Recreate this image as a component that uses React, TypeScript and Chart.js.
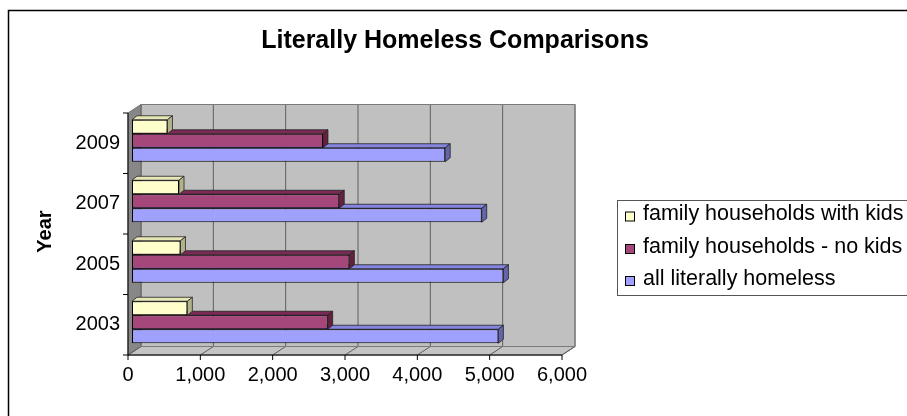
import React, { useEffect, useRef } from 'react';
import { Chart, registerables } from 'chart.js';

Chart.register(...registerables);

const TITLE = 'Literally Homeless Comparisons';
const Y_TITLE = 'Year';
const years = ['2009', '2007', '2005', '2003'];
const seriesLabels = ['family households with kids', 'family households - no kids', 'all literally homeless'];
const withKids = [490, 650, 670, 765];
const noKids = [2640, 2865, 3005, 2705];
const allHomeless = [4330, 4835, 5135, 5065];
const xTickValues = [0, 1000, 2000, 3000, 4000, 5000, 6000];

const FRONT = ['#FFFFCC', '#A5477A', '#A0A0FF'];
const TOP = ['#E6E6B6', '#7A2A55', '#8585E0'];
const SIDE = ['#B3B38A', '#66203F', '#6464AA'];

const FONT = '"Liberation Sans", Arial, sans-serif';
const BACK = { dx: 9, dy: -6 };
const FRONTP = { dx: -4, dy: 2.5 };
const BARD = { dx: 5, dy: -4 };

function poly(ctx: CanvasRenderingContext2D, pts: number[][], fill?: string, stroke?: string, lw = 1) {
  ctx.beginPath();
  ctx.moveTo(pts[0][0], pts[0][1]);
  for (let i = 1; i < pts.length; i++) ctx.lineTo(pts[i][0], pts[i][1]);
  ctx.closePath();
  if (fill) { ctx.fillStyle = fill; ctx.fill(); }
  if (stroke) { ctx.strokeStyle = stroke; ctx.lineWidth = lw; ctx.stroke(); }
}

function line(ctx: CanvasRenderingContext2D, x1: number, y1: number, x2: number, y2: number, color: string, lw = 1) {
  ctx.beginPath();
  ctx.moveTo(x1, y1);
  ctx.lineTo(x2, y2);
  ctx.strokeStyle = color;
  ctx.lineWidth = lw;
  ctx.stroke();
}

const frame3d = {
  id: 'frame3d',
  beforeDatasetsDraw(chart: any) {
    const { ctx, chartArea: a, scales } = chart;
    const xs = scales.x;
    const ys = scales.y;
    const L = a.left, R = a.right, T = a.top, B = a.bottom;
    const bx = BACK.dx, by = BACK.dy, fx = FRONTP.dx, fy = FRONTP.dy;
    ctx.save();
    ctx.fillStyle = '#C0C0C0';
    ctx.fillRect(L + bx, T + by, R - L, B - T);
    poly(ctx, [[L + fx, T + fy], [L + bx, T + by], [L + bx, B + by], [L + fx, B + fy]], '#878787', '#6E6E6E');
    poly(ctx, [[L + fx, B + fy], [R + fx, B + fy], [R + bx, B + by], [L + bx, B + by]], '#C4C4C4', '#6E6E6E');
    for (const v of xTickValues) {
      const x = xs.getPixelForValue(v);
      line(ctx, x + bx, T + by, x + bx, B + by, '#5E5E5E');
      line(ctx, x + fx, B + fy, x + bx, B + by, '#5E5E5E');
    }
    ctx.strokeStyle = '#7A7A7A';
    ctx.lineWidth = 1;
    ctx.strokeRect(L + bx, T + by, R - L, B - T);
    line(ctx, L + fx, T + fy, L + fx, B + fy + 0.5, '#000');
    for (let i = 0; i <= years.length; i++) {
      const y = ys.getPixelForValue(i - 0.5) + fy;
      line(ctx, L + fx - 5, y, L + fx, y, '#000');
    }
    line(ctx, L + fx, B + fy, R + fx, B + fy, '#000');
    for (const v of xTickValues) {
      const x = xs.getPixelForValue(v) + fx;
      line(ctx, x, B + fy, x, B + fy + 5, '#000');
    }
    ctx.restore();
  },
  beforeDatasetDraw(chart: any, args: any) {
    const { ctx } = chart;
    const i = args.index;
    const meta = args.meta;
    ctx.save();
    for (const el of meta.data) {
      const p = el.getProps(['x', 'y', 'base', 'height'], true);
      const top = p.y - p.height / 2;
      const bottom = p.y + p.height / 2;
      const left = Math.min(p.base, p.x);
      const right = Math.max(p.base, p.x);
      poly(ctx, [[left, top], [left + BARD.dx, top + BARD.dy], [right + BARD.dx, top + BARD.dy], [right, top]], TOP[i], '#222', 0.8);
      poly(ctx, [[right, top], [right + BARD.dx, top + BARD.dy], [right + BARD.dx, bottom + BARD.dy], [right, bottom]], SIDE[i], '#222', 0.8);
    }
    ctx.restore();
  },
  afterDraw(chart: any) {
    const { ctx } = chart;
    ctx.save();
    ctx.strokeStyle = '#000';
    ctx.lineWidth = 1.5;
    ctx.strokeRect(8.5, 10.5, 1200, 1200);
    ctx.fillStyle = '#000';
    ctx.font = `bold 25px ${FONT}`;
    ctx.textAlign = 'center';
    ctx.textBaseline = 'middle';
    ctx.fillText(TITLE, 455, 41);
    ctx.strokeStyle = '#555';
    ctx.lineWidth = 1;
    ctx.strokeRect(617.5, 200.5, 400, 95);
    ctx.font = `21.5px ${FONT}`;
    ctx.textAlign = 'left';
    const rows = [216.5, 249, 281];
    chart.data.datasets.forEach((ds: any, k: number) => {
      const cy = rows[k];
      ctx.fillStyle = ds.backgroundColor;
      ctx.fillRect(625.5, cy - 4.5, 9, 9);
      ctx.strokeStyle = '#000';
      ctx.strokeRect(625.5, cy - 4.5, 9, 9);
      ctx.fillStyle = '#000';
      ctx.fillText(ds.label, 643, cy - 2);
    });
    ctx.restore();
  },
};

export default function App() {
  const ref = useRef<HTMLCanvasElement>(null);
  useEffect(() => {
    Chart.defaults.font.family = FONT;
    const chart = new Chart(ref.current as HTMLCanvasElement, {
      type: 'bar',
      data: {
        labels: years,
        datasets: [withKids, noKids, allHomeless].map((d, i) => ({
          label: seriesLabels[i],
          data: d,
          backgroundColor: FRONT[i],
          borderColor: '#000',
          borderWidth: 1,
          borderSkipped: false,
          barPercentage: 1,
          categoryPercentage: 0.694,
        })),
      },
      options: {
        indexAxis: 'y',
        responsive: false,
        animation: false,
        devicePixelRatio: 1,
        layout: { padding: { left: 20, right: 341, top: 110.5, bottom: 23.5 } },
        plugins: {
          legend: { display: false },
          title: { display: false },
          tooltip: { enabled: false },
        },
        scales: {
          x: {
            type: 'linear',
            position: 'bottom',
            min: 0,
            max: 6000,
            afterFit: (s: any) => { s.height = 40; },
            grid: { display: false, drawTicks: false },
            border: { display: false },
            ticks: {
              stepSize: 1000,
              autoSkip: false,
              maxRotation: 0,
              padding: 11,
              labelOffset: -4,
              color: '#000',
              font: { size: 20, family: FONT },
              callback: (v: any) => Number(v).toLocaleString('en-US'),
            },
          },
          y: {
            type: 'category',
            position: 'left',
            afterFit: (s: any) => { s.width = 112; },
            grid: { display: false, drawTicks: false },
            border: { display: false },
            ticks: {
              padding: 12,
              labelOffset: 2.5,
              color: '#000',
              font: { size: 20, family: FONT },
            },
            title: {
              display: true,
              text: Y_TITLE,
              color: '#000',
              font: { size: 20, weight: 'bold', family: FONT },
              padding: { top: 13, bottom: 0 },
            },
          },
        },
      } as any,
      plugins: [frame3d],
    });
    return () => chart.destroy();
  }, []);
  return (
    <div style={{ position: 'fixed', left: 0, top: 0, width: 907, height: 416, background: '#fff' }}>
      <canvas ref={ref} width={907} height={416} style={{ display: 'block', width: 907, height: 416 }} />
    </div>
  );
}
